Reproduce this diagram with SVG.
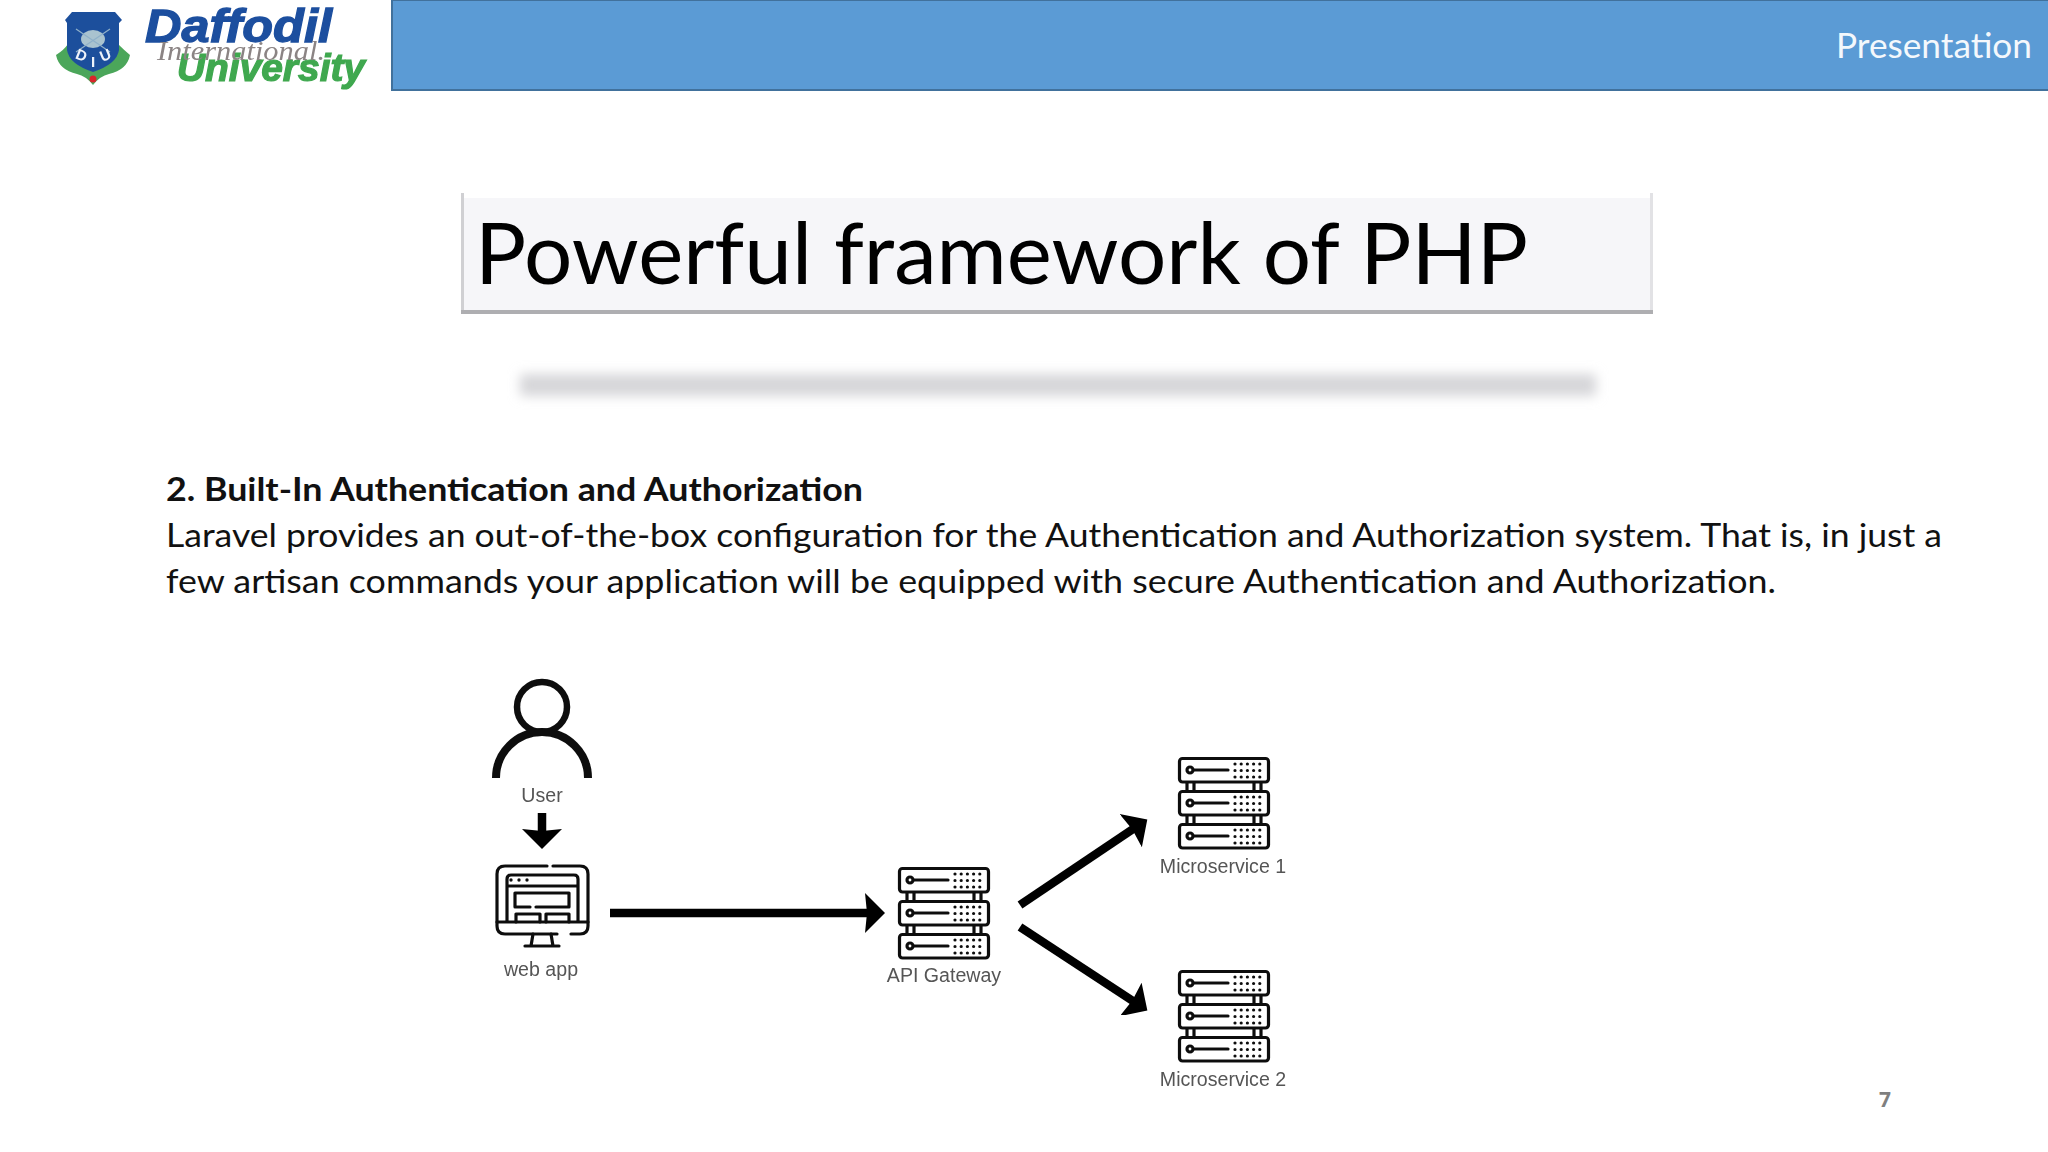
<svg xmlns="http://www.w3.org/2000/svg" xmlns:xlink="http://www.w3.org/1999/xlink" width="2048" height="1152" viewBox="0 0 2048 1152">
<style>
.body{font-family:Lato,"Open Sans",sans-serif;font-size:32px;fill:#111}
.lbl{font-family:"Liberation Sans",Arial,sans-serif;font-size:19.6px;fill:#555;text-anchor:middle}
.ln{fill:none;stroke:#111;stroke-width:3.2;stroke-linecap:round;stroke-linejoin:round}
.conn{fill:none;stroke:#000;stroke-width:8.5;marker-end:url(#ah)}
.diu{font-family:"Liberation Sans",sans-serif;font-size:15px;font-weight:700;fill:#eef3fa;text-anchor:middle}
</style>
<defs>
<filter id="soft" x="-5%" y="-5%" width="110%" height="110%"><feGaussianBlur stdDeviation="0.6"/></filter>
<filter id="bar" x="-5%" y="-150%" width="110%" height="400%"><feGaussianBlur stdDeviation="6"/></filter>
<marker id="ah" markerUnits="userSpaceOnUse" markerWidth="22" markerHeight="42" viewBox="0 0 22 42" refX="10" refY="21" orient="auto"><path d="M0 1L20 21L0 41L2 21Z" fill="#000"/></marker>
<g id="srv">
<rect class="ln" x="1.5" y="1.5" width="89" height="23.5" rx="3"/>
<path class="ln" d="M16 13H50"/><circle class="ln" cx="12" cy="13" r="3"/>
<path d="M57 7H83M57 13.5H83M57 20H83" fill="none" stroke="#111" stroke-width="3.2" stroke-linecap="round" stroke-dasharray="0 6.2"/>
</g>
<g id="server">
<use xlink:href="#srv" href="#srv"/><use xlink:href="#srv" href="#srv" y="33"/><use xlink:href="#srv" href="#srv" y="66"/>
<path class="ln" d="M9 26V33M16 26V33M76 26V33M83 26V33M9 59V66M16 59V66M76 59V66M83 59V66"/>
</g>
</defs>
<rect width="2048" height="1152" fill="#fff"/>

<g id="logo" filter="url(#soft)">
<path d="M56 55Q64 50 68 44L93 68L118 44Q124 50 130 55Q127 70 109 74Q100 76 93 85Q86 76 77 74Q59 70 56 55Z" fill="#4ca65a"/>
<path d="M65 20L72 12H115L122 20L119 23V50Q117 64 93 72Q69 64 67 50V23Z" fill="#1f4f9c"/>
<ellipse cx="93" cy="39" rx="12" ry="9" fill="#a9c3cf"/>
<path d="M76 29L110 52M110 29L76 52" stroke="#8fb1c9" stroke-width="1.2" fill="none"/>
<circle cx="93" cy="79" r="3.5" fill="#d8262c"/>
<text class="diu" transform="rotate(22 80 59)" x="80" y="60">D</text>
<text class="diu" x="93" y="67">I</text>
<text class="diu" transform="rotate(-22 107 59)" x="107" y="60">U</text>
<text x="145" y="42" font-family="Liberation Sans,sans-serif" font-size="46" font-weight="700" font-style="italic" fill="#1c4f9f" stroke="#1c4f9f" stroke-width="1.3" textLength="187" lengthAdjust="spacingAndGlyphs">Daffodil</text>
<text x="177" y="81" font-family="Liberation Sans,sans-serif" font-size="38" font-weight="700" font-style="italic" fill="#3fa84f" stroke="#3fa84f" stroke-width="1.2" textLength="188" lengthAdjust="spacingAndGlyphs">University</text>
<text x="157" y="60" font-family="Liberation Serif,serif" font-size="27" font-style="italic" fill="#8b8484" textLength="168" lengthAdjust="spacingAndGlyphs">International.</text>
</g>

<g id="header">
<rect x="392" y="0" width="1660" height="90" fill="#5b9bd5" stroke="#41719c" stroke-width="2"/>
<text x="1836" y="58" font-family="Lato,sans-serif" font-size="35" fill="#f4f8fc" textLength="196" lengthAdjust="spacingAndGlyphs">Presentation</text>
</g>

<g id="title">
<rect x="461" y="193" width="1192" height="121" fill="#fff"/>
<rect x="461" y="193" width="3" height="121" fill="#d0d0d3"/>
<rect x="1650" y="193" width="3" height="121" fill="#e2e2e5"/>
<rect x="464" y="198" width="1186" height="112" fill="#f6f6f9"/>
<rect x="461" y="310" width="1192" height="4" fill="#aeaeb1"/>
<rect x="520" y="374" width="1076" height="22" fill="#d6d6d9" filter="url(#bar)"/>
<text x="475" y="284" font-family="Lato,sans-serif" font-size="86" fill="#000" textLength="1053" lengthAdjust="spacingAndGlyphs">Powerful framework of PHP</text>
</g>

<g id="content">
<text class="body" x="166" y="501" font-weight="700" textLength="697" lengthAdjust="spacingAndGlyphs">2. Built-In Authentication and Authorization</text>
<text class="body" x="166" y="547" textLength="1776" lengthAdjust="spacingAndGlyphs">Laravel provides an out-of-the-box configuration for the Authentication and Authorization system. That is, in just a</text>
<text class="body" x="166" y="593" textLength="1610" lengthAdjust="spacingAndGlyphs">few artisan commands your application will be equipped with secure Authentication and Authorization.</text>
</g>

<g id="connectors" filter="url(#soft)">
<path class="conn" d="M542 813V839"/>
<path class="conn" d="M610 913H875"/>
<path class="conn" d="M1020 905L1139 825"/>
<path class="conn" d="M1020 927L1139 1005"/>
</g>

<g id="user" filter="url(#soft)">
<circle cx="542" cy="707" r="25" fill="none" stroke="#111" stroke-width="6.5"/>
<path d="M496 778A46 46 0 0 1 588 778" fill="none" stroke="#111" stroke-width="8"/>
<text class="lbl" x="542" y="802">User</text>
</g>

<g id="webapp" filter="url(#soft)">
<path class="ln" d="M547 866H505Q497 866 497 874V926Q497 934 505 934H557M571 934H580Q588 934 588 926V874Q588 866 580 866H553"/>
<path class="ln" d="M497 922H588M507 922V879Q507 875 511 875H574Q578 875 578 879V922M507 886H578"/>
<path class="ln" d="M530 907H515V893H569V907H536M516 922V914H540V922M546 922V914H569V922"/>
<path class="ln" d="M533 934L531 946M551 934L553 946M525 946H559"/>
<path d="M511 880H530" fill="none" stroke="#111" stroke-width="3.4" stroke-linecap="round" stroke-dasharray="0 8"/>
<text class="lbl" x="541" y="976">web app</text>
</g>

<g id="api-gateway" filter="url(#soft)">
<use xlink:href="#server" href="#server" x="898" y="867"/>
<text class="lbl" x="944" y="982">API Gateway</text>
</g>

<g id="microservice-1" filter="url(#soft)">
<use xlink:href="#server" href="#server" x="1178" y="757"/>
<text class="lbl" x="1223" y="873">Microservice 1</text>
</g>

<g id="microservice-2" filter="url(#soft)">
<use xlink:href="#server" href="#server" x="1178" y="970"/>
<text class="lbl" x="1223" y="1086">Microservice 2</text>
</g>

<text id="page" x="1885" y="1107" font-family="Open Sans,sans-serif" font-size="21" font-weight="700" fill="#7f7f7f" text-anchor="middle">7</text>
</svg>
